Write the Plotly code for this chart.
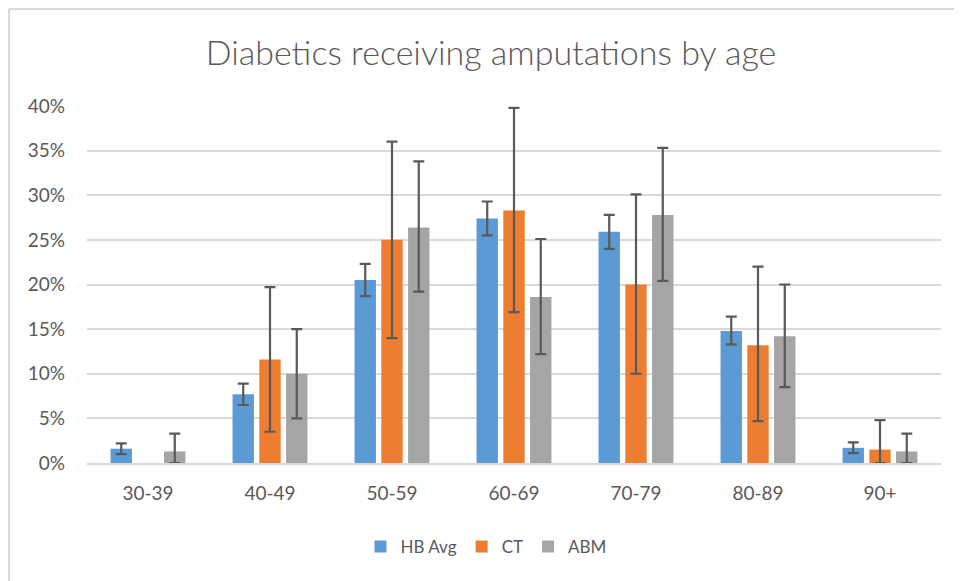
import plotly.graph_objects as go

categories = ["30-39", "40-49", "50-59", "60-69", "70-79", "80-89", "90+"]

hb_avg = [1.6, 7.7, 20.5, 27.4, 25.9, 14.8, 1.7]
hb_err_plus = [0.6, 1.2, 1.8, 1.9, 1.9, 1.6, 0.6]
hb_err_minus = [0.6, 1.2, 1.8, 1.9, 1.9, 1.5, 0.6]

ct = [None, 11.6, 25.0, 28.3, 20.0, 13.2, 1.5]
ct_err_plus = [0, 8.1, 11.0, 11.5, 10.1, 8.8, 3.3]
ct_err_minus = [0, 8.1, 11.0, 11.4, 10.0, 8.5, 1.5]

abm = [1.3, 10.0, 26.4, 18.6, 27.8, 14.2, 1.3]
abm_err_plus = [2.0, 5.0, 7.4, 6.5, 7.5, 5.8, 2.0]
abm_err_minus = [1.3, 5.0, 7.2, 6.4, 7.4, 5.7, 1.3]

y_ticks = [0, 5, 10, 15, 20, 25, 30, 35, 40]
y_tick_labels = [f"{v}%" for v in y_ticks]

FONT = "Lato"
TXT = "#595959"
ERR = "#595959"


def err(plus, minus):
    return dict(type="data", symmetric=False, array=plus, arrayminus=minus,
                color=ERR, thickness=2.2, width=5.5, visible=True)


fig = go.Figure()
fig.add_trace(go.Bar(name="HB Avg", x=categories, y=hb_avg, marker_color="#5B9BD5",
                     marker_line_width=0, error_y=err(hb_err_plus, hb_err_minus)))
fig.add_trace(go.Bar(name="CT", x=categories, y=ct, marker_color="#ED7D31",
                     marker_line_width=0, error_y=err(ct_err_plus, ct_err_minus)))
fig.add_trace(go.Bar(name="ABM", x=categories, y=abm, marker_color="#A5A5A5",
                     marker_line_width=0, error_y=err(abm_err_plus, abm_err_minus)))

# page body has an 8px margin; figure origin sits at (8, 8) of the window
OFF = 8
W, H = 962 - OFF, 581 - OFF
L, R, T, B = 87 - OFF, 21, 106 - OFF, 118
pw, ph = W - L - R, H - T - B


def px_x(p):  # reference window pixel -> paper x
    return (p - OFF - L) / pw


def px_y(p):  # reference window pixel -> paper y
    return (H - B - (p - OFF)) / ph


fig.update_layout(
    width=W, height=H,
    margin=dict(l=L, r=R, t=T, b=B, pad=0),
    paper_bgcolor="white", plot_bgcolor="white",
    barmode="group", bargap=0.342, bargroupgap=0.2,
    font=dict(family=FONT, color=TXT, size=19),
    title=dict(text="Diabetics receiving amputations by age",
               x=(491 - OFF) / W, xref="container", xanchor="center",
               y=1 - (53 - OFF) / H, yref="container", yanchor="middle",
               font=dict(family=FONT, size=34, color=TXT, weight=300)),
    xaxis=dict(showgrid=False, showline=True, linecolor="#D9D9D9", linewidth=2,
               ticks="", ticklabelstandoff=12,
               tickfont=dict(size=19, color=TXT), fixedrange=True),
    yaxis=dict(range=[0, 40], tickvals=y_ticks, ticktext=y_tick_labels,
               showgrid=True, gridcolor="#D9D9D9", gridwidth=2,
               zeroline=False, showline=False, ticks="", ticklabelstandoff=21,
               tickfont=dict(size=19, color=TXT)),
    legend=dict(orientation="h", x=px_x(486), xanchor="center",
                y=px_y(547), yanchor="middle", font=dict(size=17, color=TXT),
                itemwidth=30, traceorder="normal"),
    showlegend=True,
    shapes=[
        dict(type="line", xref="paper", yref="paper",
             x0=px_x(9), x1=px_x(9), y0=px_y(9), y1=px_y(600),
             line=dict(color="#D9D9D9", width=2)),
        dict(type="line", xref="paper", yref="paper",
             x0=px_x(9), x1=px_x(980), y0=px_y(9), y1=px_y(9),
             line=dict(color="#D9D9D9", width=2)),
    ],
)

fig.write_html("out.html")
